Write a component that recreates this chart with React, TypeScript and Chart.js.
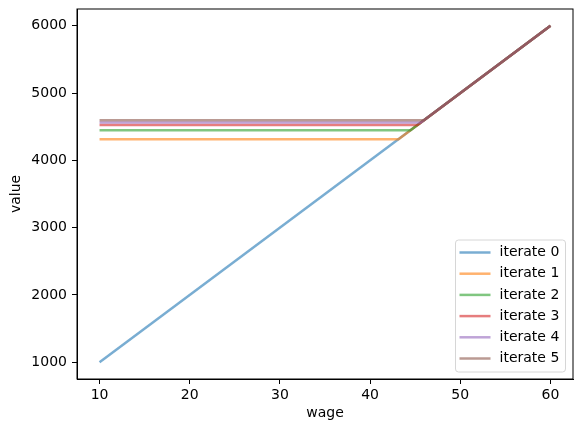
import React, { useEffect, useRef } from "react";
import Chart from "chart.js/auto";

// wage grid points and value for each iterate
const labels = ["iterate 0", "iterate 1", "iterate 2", "iterate 3", "iterate 4", "iterate 5"];
const colors = ["#1f77b4", "#ff7f0e", "#2ca02c", "#d62728", "#9467bd", "#8c564b"];

const wage0 = [10, 60];
const value0 = [1000, 6000];
const wage1 = [10, 43.15, 60];
const value1 = [4315, 4315, 6000];
const wage2 = [10, 44.48, 60];
const value2 = [4448, 4448, 6000];
const wage3 = [10, 45.27, 60];
const value3 = [4527, 4527, 6000];
const wage4 = [10, 45.63, 60];
const value4 = [4563, 4563, 6000];
const wage5 = [10, 45.97, 60];
const value5 = [4597, 4597, 6000];

const xTicks = [10, 20, 30, 40, 50, 60];
const yTicks = [1000, 2000, 3000, 4000, 5000, 6000];

const series = [
  [wage0, value0],
  [wage1, value1],
  [wage2, value2],
  [wage3, value3],
  [wage4, value4],
  [wage5, value5],
];

const FONT = "DejaVu Sans";
const SIZE = 14;

const alpha = (hex: string, a: number) => {
  const n = parseInt(hex.slice(1), 16);
  return `rgba(${(n >> 16) & 255}, ${(n >> 8) & 255}, ${n & 255}, ${a})`;
};

// full box around the plot area
const framePlugin = {
  id: "frame",
  afterDatasetsDraw(chart: any) {
    const { ctx, chartArea } = chart;
    ctx.save();
    ctx.strokeStyle = "#000";
    ctx.lineWidth = 1;
    ctx.strokeRect(chartArea.left, chartArea.top, chartArea.right - chartArea.left, chartArea.bottom - chartArea.top);
    ctx.restore();
  },
};

// matplotlib-like legend in the lower right of the axes
const legendPlugin = {
  id: "mplLegend",
  afterDraw(chart: any) {
    const { ctx, chartArea } = chart;
    const w = 110;
    const rowH = 21.2;
    const h = 132;
    const x0 = chartArea.right - 7.5 - w;
    const y0 = chartArea.bottom - 7 - h;
    ctx.save();
    ctx.beginPath();
    const r = 3;
    ctx.moveTo(x0 + r, y0);
    ctx.lineTo(x0 + w - r, y0);
    ctx.arcTo(x0 + w, y0, x0 + w, y0 + r, r);
    ctx.lineTo(x0 + w, y0 + h - r);
    ctx.arcTo(x0 + w, y0 + h, x0 + w - r, y0 + h, r);
    ctx.lineTo(x0 + r, y0 + h);
    ctx.arcTo(x0, y0 + h, x0, y0 + h - r, r);
    ctx.lineTo(x0, y0 + r);
    ctx.arcTo(x0, y0, x0 + r, y0, r);
    ctx.closePath();
    ctx.fillStyle = "rgba(255,255,255,0.8)";
    ctx.fill();
    ctx.strokeStyle = "#d6d6d6";
    ctx.lineWidth = 1;
    ctx.stroke();
    ctx.font = `${SIZE}px "${FONT}"`;
    ctx.textBaseline = "middle";
    ctx.textAlign = "left";
    chart.data.datasets.forEach((ds: any, i: number) => {
      const y = y0 + 12.5 + i * rowH;
      ctx.beginPath();
      ctx.moveTo(x0 + 4, y);
      ctx.lineTo(x0 + 35, y);
      ctx.strokeStyle = ds.borderColor;
      ctx.lineWidth = 2.5;
      ctx.stroke();
      ctx.fillStyle = "#000";
      ctx.fillText(ds.label, x0 + 44, y);
    });
    ctx.restore();
  },
};

const App: React.FC = () => {
  const canvasRef = useRef<HTMLCanvasElement | null>(null);

  useEffect(() => {
    document.body.style.margin = "0";
    const ctx = canvasRef.current?.getContext("2d");
    if (!ctx) return;

    const chart = new Chart(ctx, {
      type: "line",
      data: {
        datasets: series.map(([xs, ys], i) => ({
          label: labels[i],
          data: xs.map((x, j) => ({ x, y: ys[j] })),
          borderColor: alpha(colors[i], 0.6),
          backgroundColor: alpha(colors[i], 0.6),
          borderWidth: 2.5,
          pointRadius: 0,
          fill: false,
          tension: 0,
          order: series.length - 1 - i,
        })),
      },
      options: {
        responsive: false,
        animation: false,
        layout: { padding: { left: 0, top: 9, right: 8, bottom: 0 } },
        plugins: { legend: { display: false }, tooltip: { enabled: false } },
        scales: {
          x: {
            type: "linear",
            min: 7.5,
            max: 62.5,
            afterFit: (s: any) => {
              s.height = 53;
              s.paddingLeft = 0;
              s.paddingRight = 0;
            },
            afterBuildTicks: (s: any) => {
              s.ticks = xTicks.map((v) => ({ value: v }));
            },
            grid: { drawOnChartArea: false, drawTicks: true, tickLength: 5, color: "#000" },
            border: { display: true, color: "#000" },
            ticks: {
              color: "#000",
              font: { family: FONT, size: SIZE },
              padding: 3,
              maxRotation: 0,
              callback: (v: any) => String(v),
            },
            title: { display: true, text: "wage", color: "#000", font: { family: FONT, size: SIZE }, padding: { top: 0, bottom: 10 } },
          },
          y: {
            type: "linear",
            min: 750,
            max: 6250,
            afterFit: (s: any) => {
              s.width = 77;
              s.paddingTop = 0;
              s.paddingBottom = 0;
            },
            afterBuildTicks: (s: any) => {
              s.ticks = yTicks.map((v) => ({ value: v }));
            },
            grid: { drawOnChartArea: false, drawTicks: true, tickLength: 5, color: "#000" },
            border: { display: true, color: "#000" },
            ticks: {
              color: "#000",
              font: { family: FONT, size: SIZE },
              padding: 5,
              callback: (v: any) => String(v),
            },
            title: { display: true, text: "value", color: "#000", font: { family: FONT, size: SIZE }, padding: { top: 8, bottom: 0 } },
          },
        },
      },
      plugins: [framePlugin, legendPlugin],
    });

    return () => chart.destroy();
  }, []);

  return <canvas ref={canvasRef} width={581} height={432} style={{ display: "block" }} />;
};

export default App;
